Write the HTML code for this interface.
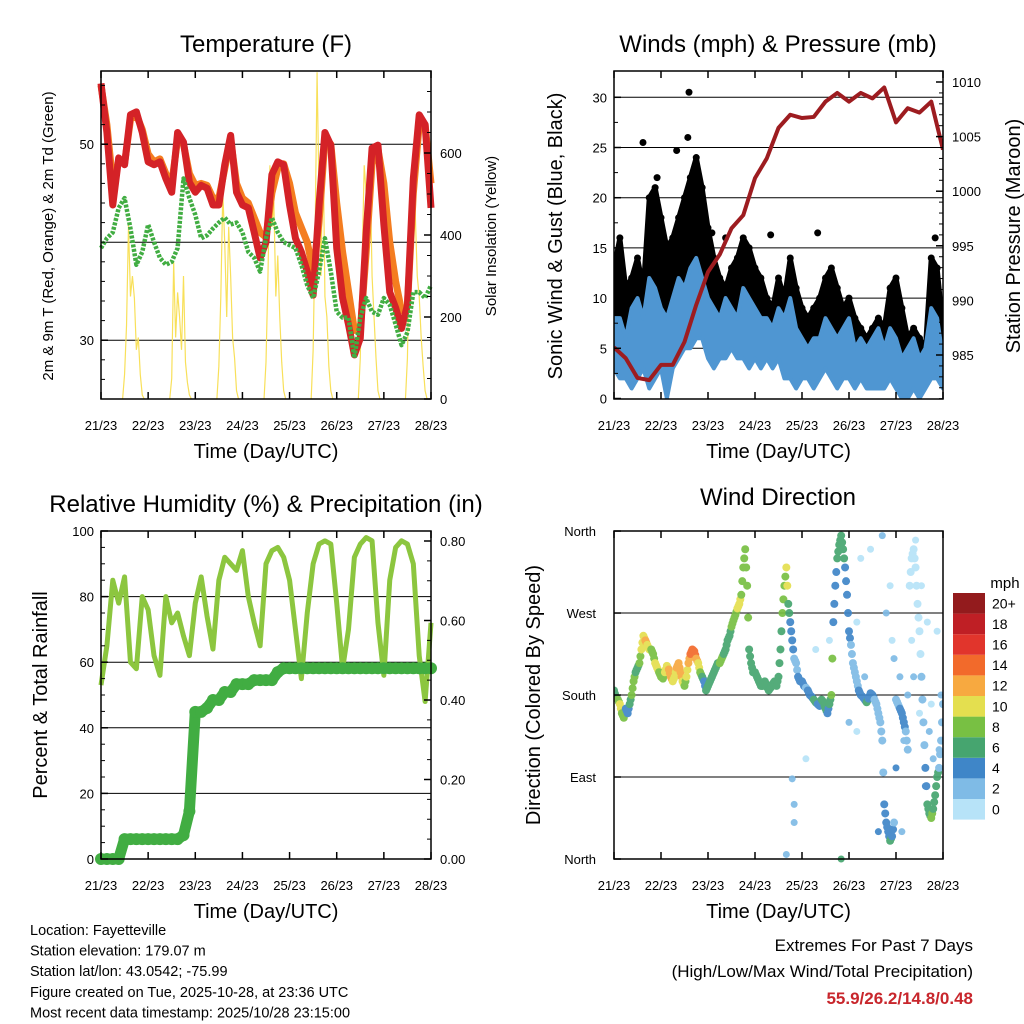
<!DOCTYPE html>
<html><head><meta charset="utf-8"><style>
html,body{margin:0;padding:0;background:#fff;}
svg{display:block;font-family:"Liberation Sans",Arial,sans-serif;}
</style></head><body>
<svg id="chart" width="1024" height="1024" viewBox="0 0 1024 1024"></svg>
<script>
// ---------- DATA ----------
const tickLabels = ["21/23","22/23","23/23","24/23","25/23","26/23","27/23","28/23"];
// Temperature, 3-hour steps (hours 0..168)
const tempRed = [56.2,51.2,43.8,48.6,47.9,53,53.3,51.2,48.2,47.9,48.2,46.5,45.1,51.2,50.2,46.1,45.1,45.8,45.5,43.8,43.8,47.9,50.9,45.1,43.8,43.5,41,38.4,40,46.9,48.2,47.9,43.8,40.4,39,37,34.6,43.8,51.2,49.9,39.4,34.3,31.6,28.5,30.2,41,49.6,49.9,41.8,34.9,33.3,31.2,33.6,46.5,53,52,43.5];
const tempOrange = [56,52,46,48.2,48,52.5,53,51.5,49,48.2,48.5,47,46,50.5,50,47,45.8,46,45.8,44.5,44.5,47.5,50.5,46,44.5,44,42.5,41,40.5,45,47.5,48,46,43,41.5,40,37,42,50.5,50,44,39,35,31,31,39,48,49.5,46,40,36,33,33.5,45,52,52,46];
const dewGreen = [39.4,40.4,41,43.5,44.5,41.4,37.7,39,41.8,40,38.4,37.7,38,39.4,46.5,44.5,42.8,40.4,40.7,41.4,42,42.5,41.8,42,41,39,38.4,37,40.4,42.5,41,40,39.7,39.4,37.7,35.6,34.3,37,40.4,37,32.9,32.3,32.3,28.2,32.3,34.3,32.9,32.6,34.3,33.6,31.6,29.5,30.8,34.9,34.9,34.3,35.6];
// Solar insolation samples (hour, W/m2)
const solarHours = [11,12,13,14,15,16,17,18,19,20,21,22, 35,36,37,38,39,40,41,42,43,44,45,46, 59,60,61,62,63,64,65,66,67,68,69,70, 83,84,85,86,87,88,89,90,91,92,93,94, 107,108,109,110,111,112,113,114,115,116,117,118, 131,132,133,134,135,136,137,138,139,140,141,142, 155,156,157,158,159,160,161,162,163,164,165,166];
const solarVals  = [0,60,180,424,250,300,246,120,150,60,10,0, 0,50,334,150,260,200,120,300,90,40,10,0, 0,80,250,505,380,200,420,300,150,100,20,0, 0,90,300,570,420,480,250,350,200,90,20,0, 0,120,400,797,500,300,650,250,200,80,20,0, 0,100,350,570,500,430,560,300,200,100,20,0, 0,100,380,560,570,450,300,250,150,80,20,0];
// Winds, 3-hour steps
const windMax = [8,8,6,9,10,8,12,11,9,8,10,12,11,13,14,12,10,9,8,10,9,8,11,10,9,8,8,7,9,8,10,7,6,5,6,6,8,7,6,7,8,5,6,5,6,7,5,7,6,4,5,6,4,5,9,8,4];
const windMin = [3,2,2,1,2,3,1,2,3,0,3,4,5,5,6,6,4,3,4,4,5,4,4,3,4,3,4,3,4,2,2,1,2,2,1,2,3,2,1,2,2,1,2,1,1,1,1,2,1,0,0,1,0,1,2,2,1];
const gustMax = [13,16,11,12,14,11,20,21,18,15,16,18,20,22,24,21,17,14,12,11,13,14,16,15,13,12,10,9,12,10,14,11,9,8,9,10,12,13,11,9,10,8,7,6,7,8,7,11,12,9,6,7,6,5,14,13,7];
const gustMin = [9,7,6,8,7,9,8,9,10,6,8,10,11,12,12,11,9,8,8,8,8,7,8,7,7,6,7,6,6,5,6,5,4,5,4,5,5,5,4,4,5,4,3,3,3,3,3,4,3,2,2,3,2,2,4,4,2];
const gustOutHours = [14.8,38.3,37.7,32,22,50,57,80,104,164];
const gustOutVals  = [25.5,30.5,26,24.7,22,16.5,16,16.3,16.5,16];
// Pressure, 6-hour steps
const pressure = [985.7,984.7,982.9,982.7,984.1,984.1,986.2,989.6,992.6,994.2,996.6,997.8,1001.2,1003,1005.8,1007,1006.7,1006.8,1008.2,1009,1008.2,1009,1008.5,1009.5,1006.3,1007.6,1007.2,1008.2,1003.8];
// RH and precip, 3-hour steps
const rh = [53,65,85,78,86,60,58,80,76,62,56,80,72,75,68,62,78,86,74,64,85,92,90,88,94,80,72,65,90,94,95,92,85,70,55,75,90,96,97,96,78,58,70,92,96,98,97,72,56,85,95,97,96,90,62,48,72];
const precip = [0,0,0,0,0.05,0.05,0.05,0.05,0.05,0.05,0.05,0.05,0.05,0.05,0.06,0.12,0.37,0.37,0.38,0.40,0.40,0.42,0.42,0.44,0.44,0.44,0.45,0.45,0.45,0.45,0.47,0.48,0.48,0.48,0.48,0.48,0.48,0.48,0.48,0.48,0.48,0.48,0.48,0.48,0.48,0.48,0.48,0.48,0.48,0.48,0.48,0.48,0.48,0.48,0.48,0.48,0.48];
// Wind direction, hourly (deg) and speed (mph)
const dirDeg = [185,178,175,170,160,155,165,160,170,180,195,205,210,215,230,245,240,235,230,230,225,215,210,205,
200,198,205,212,208,200,195,200,210,215,205,195,190,200,215,225,230,228,220,215,205,200,195,185,
190,195,200,205,210,215,215,220,225,230,240,245,255,262,268,275,280,290,320,340,300,230,215,205,
205,200,195,190,190,195,190,185,188,192,195,190,200,230,270,300,320,280,260,240,220,215,200,195,
195,190,188,185,180,178,175,172,170,168,175,172,165,160,170,180,260,300,330,345,355,340,320,290,
250,235,215,205,195,185,180,178,175,172,176,182,180,175,170,160,150,130,60,40,30,20,25,40,
175,170,165,160,150,140,120,300,330,340,320,280,250,200,150,100,60,50,45,55,70,90,100,130,170];
const dirSpd = [7,6,8,10,9,8,5,4,7,8,9,7,6,8,10,11,12,11,10,9,8,10,10,9,
8,9,10,11,12,12,10,10,12,13,12,10,9,11,13,14,15,14,12,10,8,6,5,6,
7,7,6,6,7,7,8,8,7,6,6,7,8,9,9,10,10,9,8,9,8,7,7,7,
7,7,6,6,6,7,6,6,7,6,6,7,7,7,8,9,10,6,4,4,3,3,4,5,
4,4,3,5,4,5,6,6,5,5,6,7,6,5,7,8,5,4,6,7,7,6,5,4,
4,3,3,3,3,4,4,5,5,6,5,4,4,3,3,3,2,3,4,5,5,6,4,3,
3,3,4,5,4,3,2,1,1,1,1,1,1,2,3,4,6,7,8,7,6,6,3,2,2];
const extraHour = [92,92,91,98,103,110,124,124,126,131,137,139,141,142,143,146,148,152,154,157,160,162,165,167,88,116,150,153,156,158,161,163,166,120,128,135,159,147,144,152];
const extraDeg  = [40,60,88,110,230,240,260,140,330,340,355,270,300,240,220,200,130,330,350,300,260,170,250,180,5,0,180,200,160,150,140,110,120,150,200,30,80,30,100,240];
const extraSpd  = [2,2,3,1,1,1,1,1,1,1,3,2,1,1,2,2,2,0,0,1,1,1,1,2,3,6,3,2,1,1,2,2,2,2,3,4,5,3,4,1];
const speedBins = ["0","2","4","6","8","10","12","14","16","18","20+"];
const speedColors = ["#b7e3f8","#7fbbe6","#3f86c8","#46a56f","#78c043","#e4df4f","#f7a940","#f26a2b","#e1352c","#bf1f25","#931b1d"];

// ---------- HELPERS ----------
const NS = "http://www.w3.org/2000/svg";
const svg = document.getElementById("chart");
function mk(tag, attrs, parent) {
  const e = document.createElementNS(NS, tag);
  for (const k in attrs) e.setAttribute(k, attrs[k]);
  (parent || svg).appendChild(e);
  return e;
}
function txt(s, x, y, size, opts, parent) {
  opts = opts || {};
  const e = mk("text", {x:x, y:y, "font-size":size, "text-anchor":opts.anchor||"middle", fill:opts.fill||"#000", "font-weight":opts.weight||"normal"}, parent);
  if (opts.rot) e.setAttribute("transform", "rotate(" + opts.rot + " " + x + " " + y + ")");
  e.textContent = s;
  return e;
}
function grp(name) {
  const g = mk("g", {});
  
  
  return g;
}
function panel(L, R, T, B, name) {
  const g = grp(name);
  return {L, R, T, B, g, x: h => L + h * (R - L) / 168};
}
function xAxis(p) {
  const g = grp("x-axis");
  p.g.appendChild(g);
  for (let i = 0; i < 8; i++) {
    const x = p.L + i * (p.R - p.L) / 7;
    mk("line", {x1:x, x2:x, y1:p.B, y2:p.B - 7, stroke:"#000", "stroke-width":1.5}, g);
    mk("line", {x1:x, x2:x, y1:p.T, y2:p.T + 7, stroke:"#000", "stroke-width":1.5}, g);
    const t = txt(tickLabels[i], x, p.B + 31, 13, {}, g);
    
    
  }
  const tt = txt("Time (Day/UTC)", (p.L + p.R) / 2, p.B + 59, 20, {}, g);
  
  
}
function frame(p) {
  mk("rect", {x:p.L, y:p.T, width:p.R - p.L, height:p.B - p.T, fill:"none", stroke:"#000", "stroke-width":1.5}, p.g);
}
function grid(p, ys) {
  ys.forEach(y => mk("line", {x1:p.L, x2:p.R, y1:y, y2:y, stroke:"#000", "stroke-width":1}, p.g));
}
function yTicks(p, side, vals, fy, fmt, g, minorStep, lo, hi) {
  const X = side === "L" ? p.L : p.R;
  const d = side === "L" ? 1 : -1;
  if (minorStep) {
    for (let v = lo; v <= hi + 1e-9; v += minorStep) {
      const y = fy(v);
      if (y < p.T || y > p.B) continue;
      mk("line", {x1:X, x2:X + d * 4, y1:y, y2:y, stroke:"#000", "stroke-width":1}, g);
    }
  }
  vals.forEach(v => {
    const y = fy(v);
    mk("line", {x1:X, x2:X + d * 7, y1:y, y2:y, stroke:"#000", "stroke-width":1.5}, g);
    const t = txt(fmt(v), side === "L" ? X - 7 : X + 9, y + 5, 13, {anchor: side === "L" ? "end" : "start"}, g);
    
    
  });
}
const h3 = i => i * 3;

// ---------- PANEL 1: TEMPERATURE ----------
(function () {
  const p = panel(101, 431, 71, 399, "temperature-panel");
  const fy = t => 399 - (t - 24) * 9.8;
  const fs = v => 399 - v * 0.41;
  grid(p, [fy(30), fy(40), fy(50)]);
  // solar
  const sg = grp("solar-insolation-series"); p.g.appendChild(sg);
  for (let d = 0; d < 7; d++) {
    const pts = [];
    for (let i = d * 12; i < d * 12 + 12; i++) pts.push(p.x(solarHours[i]) + "," + fs(solarVals[i]));
    mk("polyline", {points: pts.join(" "), fill:"none", stroke:"#f8e05a", "stroke-width":1.2}, sg);
  }
  // orange
  const og = grp("temperature-9m-series"); p.g.appendChild(og);
  mk("polyline", {points: tempOrange.map((v,i)=>p.x(h3(i))+","+fy(v)).join(" "), fill:"none", stroke:"#f47d20", "stroke-width":7, "stroke-linejoin":"round"}, og);
  const rg = grp("temperature-2m-series"); p.g.appendChild(rg);
  mk("polyline", {points: tempRed.map((v,i)=>p.x(h3(i))+","+fy(v)).join(" "), fill:"none", stroke:"#d42227", "stroke-width":7, "stroke-linejoin":"round"}, rg);
  const gg = grp("dewpoint-series"); p.g.appendChild(gg);
  mk("polyline", {points: dewGreen.map((v,i)=>p.x(h3(i))+","+fy(v)).join(" "), fill:"none", stroke:"#41ad42", "stroke-width":4.5, "stroke-dasharray":"3 1.5", "stroke-linejoin":"round"}, gg);
  frame(p);
  const ya = grp("y-axis-left"); p.g.appendChild(ya);
  yTicks(p, "L", [30, 50], fy, v => String(v), ya, 2, 24, 56);
  const yb = grp("y-axis-right"); p.g.appendChild(yb);
  yTicks(p, "R", [0, 200, 400, 600], fs, v => String(v), yb, 50, 0, 800);
  xAxis(p);
  const t = txt("Temperature (F)", 266, 52, 24, {}, p.g);
   
  const a = txt("2m & 9m T (Red, Orange) & 2m Td (Green)", 53, 236, 15, {rot:-90}, p.g);
   
  const b = txt("Solar Insolation (Yellow)", 496, 236, 15, {rot:-90}, p.g);
   
})();

// ---------- PANEL 2: WINDS ----------
(function () {
  const p = panel(614, 943, 71, 399, "winds-panel");
  const fy = v => 398.5 - v * 10.04;
  const fp = v => 355 - (v - 985) * 10.92;
  grid(p, [5,10,15,20,25,30].map(fy));
  const cl = g => { const c = mk("g", {"clip-path":"url(#clip2)"}, g); return c; };
  const defs = mk("defs", {}); const cp = mk("clipPath", {id:"clip2"}, defs);
  mk("rect", {x:p.L, y:p.T, width:p.R-p.L, height:p.B-p.T}, cp);
  const gg = grp("gust-series"); p.g.appendChild(gg);
  const gc = cl(gg);
  const gpts = gustMax.map((v,i)=>p.x(h3(i))+","+fy(v)).concat(gustMin.map((v,i)=>p.x(h3(i))+","+fy(v)).reverse());
  mk("polygon", {points:gpts.join(" "), fill:"#000", stroke:"#000", "stroke-width":5, "stroke-linejoin":"round"}, gc);
  gustMax.forEach((v,i)=>mk("circle", {cx:p.x(h3(i)), cy:fy(v), r:3.5, fill:"#000"}, gc));
  gustOutHours.forEach((h,i)=>mk("circle", {cx:p.x(h), cy:fy(gustOutVals[i]), r:3.5, fill:"#000"}, gc));
  const wg = grp("wind-speed-series"); p.g.appendChild(wg);
  const wc = cl(wg);
  const wpts = windMax.map((v,i)=>p.x(h3(i))+","+fy(v)).concat(windMin.map((v,i)=>p.x(h3(i))+","+fy(v)).reverse());
  mk("polygon", {points:wpts.join(" "), fill:"#4f96d2", stroke:"#4f96d2", "stroke-width":4, "stroke-linejoin":"round"}, wc);
  const pg = grp("pressure-series"); p.g.appendChild(pg);
  mk("polyline", {points: pressure.map((v,i)=>p.x(i*6)+","+fp(v)).join(" "), fill:"none", stroke:"#9d1c20", "stroke-width":4, "stroke-linejoin":"round"}, cl(pg));
  frame(p);
  const ya = grp("y-axis-left"); p.g.appendChild(ya);
  yTicks(p, "L", [0,5,10,15,20,25,30], fy, v => String(v), ya, 2.5, 0, 32);
  const yb = grp("y-axis-right"); p.g.appendChild(yb);
  yTicks(p, "R", [985,990,995,1000,1005,1010], fp, v => String(v), yb, 1, 981, 1011);
  xAxis(p);
  const t = txt("Winds (mph) & Pressure (mb)", 778, 52, 24, {}, p.g);
   
  const a = txt("Sonic Wind & Gust (Blue, Black)", 562, 236, 20, {rot:-90}, p.g);
   
  const b = txt("Station Pressure (Maroon)", 1020, 236, 20, {rot:-90}, p.g);
   
})();

// ---------- PANEL 3: RH & PRECIP ----------
(function () {
  const p = panel(101, 431, 531, 859, "humidity-panel");
  const fy = v => 859 - v * 3.28;
  const fr = v => 859 - v * 397.5;
  grid(p, [20,40,60,80].map(fy));
  const rg = grp("relative-humidity-series"); p.g.appendChild(rg);
  mk("polyline", {points: rh.map((v,i)=>p.x(h3(i))+","+fy(v)).join(" "), fill:"none", stroke:"#8cc63f", "stroke-width":5, "stroke-linejoin":"round"}, rg);
  const pg = grp("precipitation-series"); p.g.appendChild(pg);
  mk("polyline", {points: precip.map((v,i)=>p.x(h3(i))+","+fr(v)).join(" "), fill:"none", stroke:"#41ad42", "stroke-width":11, "stroke-linejoin":"round"}, pg);
  precip.forEach((v,i)=>mk("circle", {cx:p.x(h3(i)), cy:fr(v), r:6, fill:"#41ad42"}, pg));
  frame(p);
  const ya = grp("y-axis-left"); p.g.appendChild(ya);
  yTicks(p, "L", [0,20,40,60,80,100], fy, v => String(v), ya, 5, 0, 100);
  const yb = grp("y-axis-right"); p.g.appendChild(yb);
  yTicks(p, "R", [0,0.2,0.4,0.6,0.8], fr, v => v.toFixed(2), yb, 0.05, 0, 0.8);
  xAxis(p);
  const t = txt("Relative Humidity (%) & Precipitation (in)", 266, 512, 24, {}, p.g);
   
  const a = txt("Percent & Total Rainfall", 47, 695, 20, {rot:-90}, p.g);
   
})();

// ---------- PANEL 4: WIND DIRECTION ----------
(function () {
  const p = panel(614, 943, 531, 859, "wind-direction-panel");
  const fy = d => 859 - d * 0.911;
  grid(p, [90,180,270].map(fy));
  const col = s => speedColors[Math.min(10, Math.max(0, Math.floor(s / 2)))];
  const defs = mk("defs", {}); const cp = mk("clipPath", {id:"clip4"}, defs);
  mk("rect", {x:p.L, y:p.T-4, width:p.R-p.L, height:p.B-p.T+8}, cp);
  const sg = grp("wind-direction-points"); p.g.appendChild(sg);
  const c = mk("g", {"clip-path":"url(#clip4)", opacity:0.92}, sg);
  extraHour.forEach((h,i)=>mk("circle", {cx:p.x(h), cy:fy(extraDeg[i]), r:3.5, fill:col(extraSpd[i])}, c));
  dirDeg.forEach((d,i)=>{
    mk("circle", {cx:p.x(i), cy:fy(d), r:4, fill:col(dirSpd[i])}, c);
    if (i < dirDeg.length - 1) {
      const d2 = dirDeg[i+1];
      if (Math.abs(d2 - d) < 90) mk("circle", {cx:p.x(i+0.5), cy:fy((d+d2)/2), r:4, fill:col(dirSpd[i])}, c);
    }
  });
  frame(p);
  const ya = grp("y-axis-left"); p.g.appendChild(ya);
  const names = ["North","East","South","West","North"];
  [0,90,180,270,360].forEach((d,i)=>{
    const y = fy(d);
    mk("line", {x1:p.L, x2:p.L+7, y1:y, y2:y, stroke:"#000", "stroke-width":1.5}, ya);
    const t = txt(names[i], p.L - 18, y + 5, 13, {anchor:"end"}, ya);
     
  });
  xAxis(p);
  const t = txt("Wind Direction", 778, 505, 24, {}, p.g);
   
  const a = txt("Direction (Colored By Speed)", 540, 695, 20, {rot:-90}, p.g);
   
  // colorbar
  const lg = grp("speed-legend"); p.g.appendChild(lg);
  const u = txt("mph", 1005, 588, 15, {}, lg);
   
  const bh = 20.6, top = 593;
  speedBins.forEach((lab, i) => {
    const y = top + (10 - i) * bh;
    const r = mk("rect", {x:953, y:y, width:32, height:bh, fill:speedColors[i]}, lg);
     
    const t2 = txt(lab, 992, y + bh/2 + 5, 14, {anchor:"start"}, lg);
     
  });
})();

// ---------- FOOTER TEXT ----------
(function () {
  const g = grp("station-info");
  ["Location: Fayetteville","Station elevation: 179.07 m","Station lat/lon: 43.0542; -75.99","Figure created on Tue, 2025-10-28, at 23:36 UTC","Most recent data timestamp: 2025/10/28 23:15:00"].forEach((s,i)=>{
    const t = txt(s, 30, 935 + i * 20.6, 14.5, {anchor:"start"}, g);
     
  });
  const e = grp("extremes-summary");
  const a = txt("Extremes For Past 7 Days", 973, 951, 17, {anchor:"end"}, e);
   
  const b = txt("(High/Low/Max Wind/Total Precipitation)", 973, 977, 17, {anchor:"end"}, e);
   
  const c = txt("55.9/26.2/14.8/0.48", 973, 1004, 17, {anchor:"end", fill:"#c8262c", weight:"bold"}, e);
   
})();
</script>
</body></html>
